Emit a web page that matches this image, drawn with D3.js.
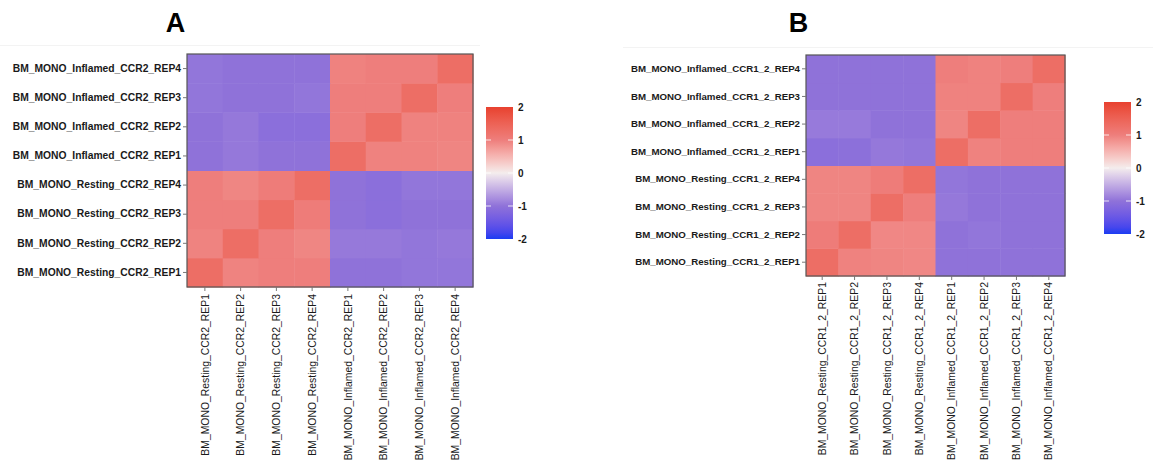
<!DOCTYPE html>
<html>
<head>
<meta charset="utf-8">
<script src="https://cdn.jsdelivr.net/npm/d3@7"></script>
<style>
  html, body { margin: 0; padding: 0; background: #ffffff; }
  svg { display: block; font-family: "Liberation Sans", Arial, sans-serif; }
</style>
</head>
<body>
<svg id="chart" width="1153" height="463"></svg>
<script>
// Sample order for both panels (rows and columns share it)
const samplesA = [
  "BM_MONO_Resting_CCR2_REP1", "BM_MONO_Resting_CCR2_REP2",
  "BM_MONO_Resting_CCR2_REP3", "BM_MONO_Resting_CCR2_REP4",
  "BM_MONO_Inflamed_CCR2_REP1", "BM_MONO_Inflamed_CCR2_REP2",
  "BM_MONO_Inflamed_CCR2_REP3", "BM_MONO_Inflamed_CCR2_REP4"
];
const samplesB = [
  "BM_MONO_Resting_CCR1_2_REP1", "BM_MONO_Resting_CCR1_2_REP2",
  "BM_MONO_Resting_CCR1_2_REP3", "BM_MONO_Resting_CCR1_2_REP4",
  "BM_MONO_Inflamed_CCR1_2_REP1", "BM_MONO_Inflamed_CCR1_2_REP2",
  "BM_MONO_Inflamed_CCR1_2_REP3", "BM_MONO_Inflamed_CCR1_2_REP4"
];

// Scaled correlation values: valuesX[row sample][column sample]
const valuesA = [
  [ 1.30,  0.96,  1.00,  1.00, -1.00, -1.00, -0.97, -0.97],
  [ 0.96,  1.30,  1.00,  0.93, -0.94, -0.94, -0.97, -0.95],
  [ 1.00,  1.00,  1.30,  1.04, -1.00, -1.06, -1.00, -1.00],
  [ 1.00,  0.93,  1.04,  1.30, -1.00, -1.06, -0.97, -0.97],
  [-1.00, -0.95, -1.00, -1.00,  1.30,  0.97,  0.97,  0.94],
  [-1.00, -0.95, -1.06, -1.06,  1.00,  1.30,  0.97,  0.97],
  [-0.97, -1.00, -1.00, -0.97,  1.00,  1.00,  1.30,  1.00],
  [-0.97, -1.00, -1.00, -1.00,  0.97,  1.00,  1.00,  1.30]
];
const valuesB = [
  [ 1.30,  0.97,  0.94,  0.92, -1.00, -1.00, -1.00, -1.00],
  [ 1.04,  1.30,  0.92,  0.92, -1.00, -0.97, -1.00, -1.00],
  [ 0.94,  0.94,  1.30,  1.00, -0.95, -1.00, -1.00, -1.00],
  [ 0.94,  0.94,  1.04,  1.30, -0.97, -1.00, -1.00, -1.00],
  [-1.06, -1.04, -0.95, -0.97,  1.30,  0.97,  1.00,  1.00],
  [-0.93, -0.93, -1.00, -1.00,  0.94,  1.30,  1.00,  1.00],
  [-1.00, -1.00, -1.00, -1.00,  0.97,  0.97,  1.30,  1.00],
  [-1.00, -1.00, -1.00, -1.00,  1.00,  0.97,  1.00,  1.30]
];

const legendTicks = [2, 1, 0, -1, -2];
const colorStops = [-2, -1, 0, 1, 2];
const colorValues = ["#1b3cf2", "#8f72d9", "#f4eded", "#ee7e7c", "#e8412f"];

const color = d3.scaleLinear()
  .domain(colorStops)
  .range(colorValues)
  .interpolate(d3.interpolateLab);

const svg = d3.select("#chart");

// thin separator under the panel titles
svg.append("line").attr("x1", 0).attr("x2", 480).attr("y1", 45.5).attr("y2", 45.5)
  .attr("stroke", "#f3f3f3").attr("stroke-width", 1);
svg.append("line").attr("x1", 623).attr("x2", 1153).attr("y1", 47.5).attr("y2", 47.5)
  .attr("stroke", "#f3f3f3").attr("stroke-width", 1);

function drawPanel(opt) {
  const g = svg.append("g");

  const x = d3.scaleBand().domain(opt.samples).range([opt.left, opt.right]);
  // first sample at the bottom
  const y = d3.scaleBand().domain(opt.samples.slice().reverse()).range([opt.top, opt.bottom]);

  const cells = [];
  opt.values.forEach((row, i) => row.forEach((v, j) => {
    cells.push({ row: opt.samples[i], col: opt.samples[j], v });
  }));

  g.append("g").selectAll("rect").data(cells).join("rect")
    .attr("x", d => x(d.col))
    .attr("y", d => y(d.row))
    .attr("width", x.bandwidth() + 0.5)
    .attr("height", y.bandwidth() + 0.5)
    .attr("fill", d => color(d.v));

  g.append("rect")
    .attr("x", opt.left).attr("y", opt.top)
    .attr("width", opt.right - opt.left).attr("height", opt.bottom - opt.top)
    .attr("fill", "none").attr("stroke", "#555").attr("stroke-width", 1.2);

  // row labels
  const yAxis = g.append("g")
    .attr("transform", `translate(${opt.left},0)`)
    .call(d3.axisLeft(y).tickSize(4).tickPadding(2));
  yAxis.select(".domain").remove();
  yAxis.selectAll(".tick line").attr("stroke", "#777");
  yAxis.selectAll("text")
    .attr("fill", "#1a1a1a")
    .style("font-family", '"Liberation Sans", Arial, sans-serif')
    .style("font-weight", "bold")
    .style("font-size", opt.yFont + "px");

  // column labels, rotated
  const xAxis = g.append("g")
    .attr("transform", `translate(0,${opt.bottom})`)
    .call(d3.axisBottom(x).tickSize(4).tickPadding(0));
  xAxis.select(".domain").remove();
  xAxis.selectAll(".tick line").attr("stroke", "#777");
  xAxis.selectAll("text")
    .attr("fill", "#1a1a1a")
    .style("font-family", '"Liberation Sans", Arial, sans-serif')
    .style("font-size", opt.xFont + "px")
    .attr("text-anchor", "end")
    .attr("dy", "0.35em")
    .attr("transform", `translate(0,${opt.xGap}) rotate(-90)`)
    .attr("x", 0).attr("y", 0);

  // panel letter
  g.append("text")
    .attr("x", opt.titleX).attr("y", opt.titleY)
    .attr("text-anchor", "middle")
    .style("font-family", '"Liberation Sans", Arial, sans-serif')
    .style("font-weight", "bold").style("font-size", "27px")
    .attr("fill", "#000")
    .text(opt.title);

  // colour legend
  const ly = d3.scaleLinear().domain([2, -2]).range([opt.legTop, opt.legBottom]);
  const gradId = "grad" + opt.title;
  const grad = svg.append("defs").append("linearGradient")
    .attr("id", gradId).attr("x1", 0).attr("x2", 0).attr("y1", 0).attr("y2", 1);
  d3.range(0, 1.0001, 0.05).forEach(t => {
    grad.append("stop").attr("offset", t).attr("stop-color", color(2 - 4 * t));
  });
  g.append("rect")
    .attr("x", opt.legX).attr("y", opt.legTop)
    .attr("width", opt.legW).attr("height", opt.legBottom - opt.legTop)
    .attr("fill", `url(#${gradId})`);
  legendTicks.filter(t => Math.abs(t) < 2).forEach(t => {
    g.append("line").attr("x1", opt.legX).attr("x2", opt.legX + 5)
      .attr("y1", ly(t)).attr("y2", ly(t)).attr("stroke", "#ffffff").attr("stroke-opacity", 0.8);
    g.append("line").attr("x1", opt.legX + opt.legW - 5).attr("x2", opt.legX + opt.legW)
      .attr("y1", ly(t)).attr("y2", ly(t)).attr("stroke", "#ffffff").attr("stroke-opacity", 0.8);
  });
  g.append("g").selectAll("text").data(legendTicks).join("text")
    .attr("x", opt.legX + opt.legW + 5)
    .attr("y", d => ly(d))
    .attr("dy", "0.35em")
    .style("font-family", '"Liberation Sans", Arial, sans-serif')
    .style("font-weight", "bold").style("font-size", "10px")
    .attr("fill", "#1a1a1a")
    .text(d => d);
}

drawPanel({
  title: "A", samples: samplesA, values: valuesA,
  left: 187, right: 473, top: 54, bottom: 287,
  yFont: 10.3, xFont: 10.4, xGap: 7,
  titleX: 175.5, titleY: 32,
  legX: 486, legW: 27, legTop: 107, legBottom: 239
});

drawPanel({
  title: "B", samples: samplesB, values: valuesB,
  left: 806, right: 1065, top: 55, bottom: 276,
  yFont: 9.7, xFont: 10.4, xGap: 6,
  titleX: 798.5, titleY: 32,
  legX: 1104, legW: 27, legTop: 102, legBottom: 234
});
</script>
</body>
</html>
